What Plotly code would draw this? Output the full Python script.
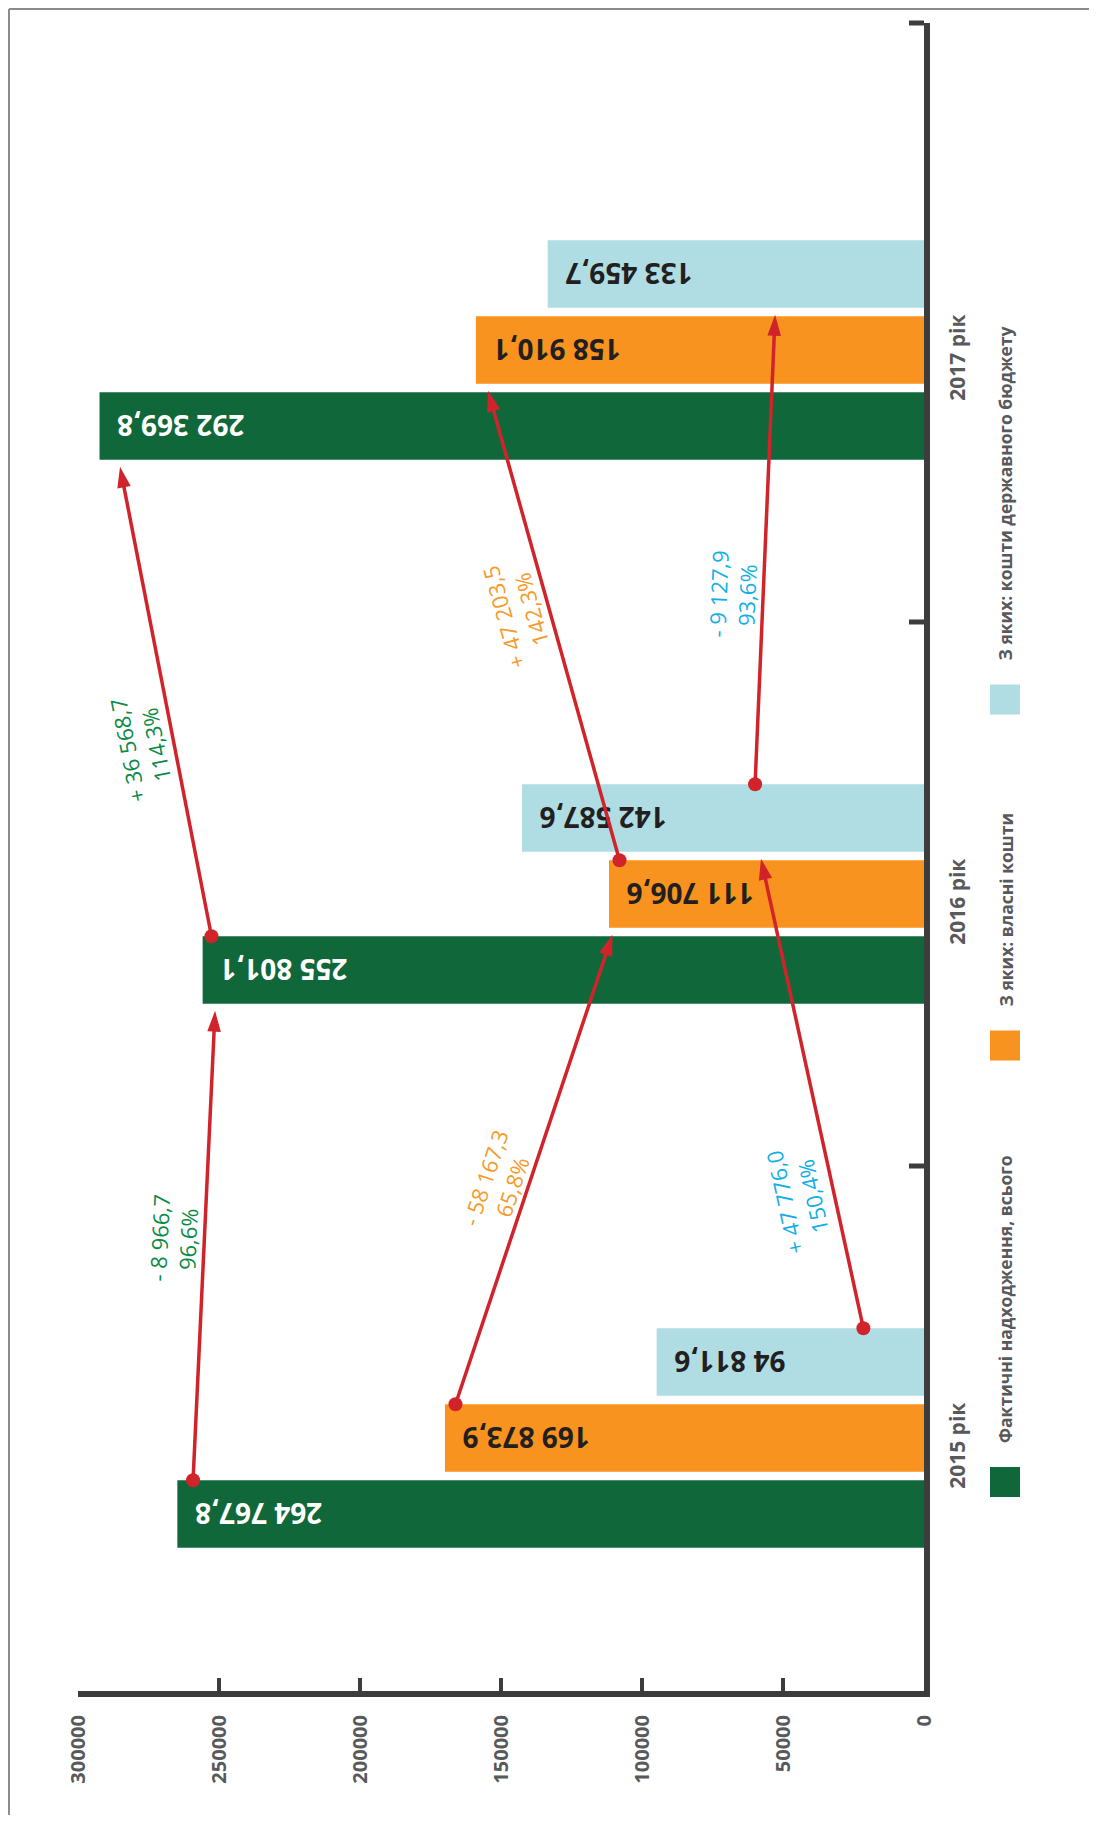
import math
import plotly.graph_objects as go

# ---------------- data ----------------
years = ["2015 рік", "2016 рік", "2017 рік"]
series_names = [
    "Фактичні надходження, всього",
    "З яких: власні кошти",
    "З яких: кошти державного бюджету",
]
total_income = [264767.8, 255801.1, 292369.8]
own_funds = [169873.9, 111706.6, 158910.1]
state_budget = [94811.6, 142587.6, 133459.7]
value_ticks = [0, 50000, 100000, 150000, 200000, 250000, 300000]

# where the change arrows start / end along the value axis
total_arrow_from = [259200, 252660]
total_arrow_to = [251400, 285100]
own_arrow_from = [166140, 107980]
own_arrow_to = [110500, 154600]
state_arrow_from = [21490, 59900]
state_arrow_to = [57800, 52800]

# ---------------- style / layout ----------------
PAGE_W, PAGE_H = 1097, 1823
BODY = 8                          # default page margin around the figure
W, H = PAGE_W - BODY, PAGE_H - 2 * BODY
PLOT_L, PLOT_R, PLOT_T, PLOT_B = 78, 924, 23, 1691   # plot area in page pixels
PW, PH = PLOT_R - PLOT_L, PLOT_B - PLOT_T
ML, MT = PLOT_L - BODY, PLOT_T - BODY
MR, MB = W - ML - PW, H - MT - PH
XMAX = 300000
YR = [-0.465, 2.601]
BARGAP, BARGROUPGAP = 0.581, 0.112
SLOT = (1 - BARGAP) / 3
BARW = SLOT * (1 - BARGROUPGAP)
OFFS = [-(1 - BARGAP) / 2 + SLOT * (i + 0.5) for i in range(3)]
TIP_GAP = 0.013
LINE_BACKOFF = 9

GREEN, ORANGE, BLUE = "#10673a", "#f7931e", "#b0dde3"
BAR_COLORS = [GREEN, ORANGE, BLUE]
BAR_TEXT_COLORS = ["#ffffff", "#231f20", "#231f20"]
CHANGE_COLORS = ["#0a8a46", "#f69a2a", "#12aee8"]
RED = "#d1232a"
AXIS = "#3d3d3d"
LABEL = "#58595b"
FONT = "Open Sans, Roboto, DejaVu Sans, sans-serif"

# change label centres in page pixels
change_label_px = [(173, 1239), (142, 748), (498, 1182), (517, 614), (798, 1200), (732, 595)]

legend_swatch_cy = [1482, 1045.5, 699.5]
LEG_X = 1005
SW = 30


def px_x(v):
    return PLOT_L + PW * (XMAX - v) / XMAX


def px_y(y):
    return PLOT_T + PH * (YR[1] - y) / (YR[1] - YR[0])


def val_x(px):
    return XMAX - (px - PLOT_L) / PW * XMAX


def val_y(py):
    return YR[1] - (py - PLOT_T) / PH * (YR[1] - YR[0])


def paper_x(px):
    return (px - PLOT_L) / PW


def paper_y(py):
    return (PLOT_B - py) / PH


def fmt_num(v):
    s = f"{abs(v):,.1f}"
    return s.replace(",", " ").replace(".", ",")


fig = go.Figure()
ypos = list(range(len(years)))
series_vals = [total_income, own_funds, state_budget]

for s, vals in enumerate(series_vals):
    fig.add_trace(go.Bar(
        orientation="h", x=vals, y=ypos, name=series_names[s],
        marker=dict(color=BAR_COLORS[s], line=dict(width=0)),
        texttemplate="%{x:,.1f}\u00a0\u00a0",
        textposition="inside", insidetextanchor="end", textangle=180,
        constraintext="none",
        textfont=dict(family=FONT, size=28, color=BAR_TEXT_COLORS[s], weight="bold"),
        showlegend=False, hoverinfo="skip",
    ))

arrow_from = [total_arrow_from, own_arrow_from, state_arrow_from]
arrow_to = [total_arrow_to, own_arrow_to, state_arrow_to]

line_x, line_y = [], []
dot_x, dot_y = [], []
tip_x, tip_y, tip_ang = [], [], []
k = 0
for s, vals in enumerate(series_vals):
    for i in range(len(vals) - 1):
        x0, x1 = arrow_from[s][i], arrow_to[s][i]
        y0 = i + OFFS[s] + BARW / 2
        y1 = (i + 1) + OFFS[s] - BARW / 2 - TIP_GAP
        dx = px_x(x1) - px_x(x0)
        dy = px_y(y1) - px_y(y0)
        L = math.hypot(dx, dy)
        ex = px_x(x1) - dx / L * LINE_BACKOFF
        ey = px_y(y1) - dy / L * LINE_BACKOFF
        line_x += [x0, val_x(ex), None]
        line_y += [y0, val_y(ey), None]
        dot_x.append(x0)
        dot_y.append(y0)
        tip_x.append(x1)
        tip_y.append(y1)
        tip_ang.append(math.degrees(math.atan2(dx, -dy)))
        # change label
        d = vals[i + 1] - vals[i]
        pct = vals[i + 1] / vals[i] * 100
        sign = "+ " if d >= 0 else "- "
        txt = f"{sign}{fmt_num(d)}<br>{pct:.1f}%".replace(".", ",")
        ang = math.degrees(math.atan2(dy, dx))
        cx, cy = change_label_px[k]
        fig.add_annotation(
            x=paper_x(cx), y=paper_y(cy), xref="paper", yref="paper",
            text=txt, showarrow=False, textangle=ang,
            xanchor="center", yanchor="middle", align="center",
            font=dict(family=FONT, size=22, color=CHANGE_COLORS[s]),
        )
        k += 1

fig.add_trace(go.Scatter(
    x=line_x, y=line_y, mode="lines", line=dict(color=RED, width=3.5),
    connectgaps=False, showlegend=False, hoverinfo="skip", cliponaxis=False,
))
fig.add_trace(go.Scatter(
    x=dot_x, y=dot_y, mode="markers",
    marker=dict(symbol="circle", size=14, color=RED, opacity=1, line=dict(width=0)),
    showlegend=False, hoverinfo="skip", cliponaxis=False,
))
fig.add_trace(go.Scatter(
    x=tip_x, y=tip_y, mode="markers",
    marker=dict(symbol="arrow", size=22, color=RED, opacity=1, angle=tip_ang,
                line=dict(width=0)),
    showlegend=False, hoverinfo="skip", cliponaxis=False,
))

shapes = []
# category boundary ticks on the value-zero axis
for b in [0.5, 1.5]:
    shapes.append(dict(type="line", xref="paper", yref="y", xsizemode="pixel", xanchor=1,
                       x0=-15, x1=0, y0=b, y1=b, line=dict(color=AXIS, width=5)))
shapes.append(dict(type="line", xref="paper", yref="paper", xsizemode="pixel", xanchor=1,
                   x0=-15, x1=0, y0=1, y1=1, line=dict(color=AXIS, width=5)))
# page frame lines
shapes.append(dict(type="line", xref="paper", yref="paper",
                   x0=paper_x(BODY + 1), x1=paper_x(BODY + 1),
                   y0=paper_y(BODY + 1), y1=paper_y(PAGE_H),
                   line=dict(color="#8c8c8c", width=2)))
shapes.append(dict(type="line", xref="paper", yref="paper",
                   x0=paper_x(BODY + 1), x1=paper_x(PAGE_W),
                   y0=paper_y(BODY + 1), y1=paper_y(BODY + 1),
                   line=dict(color="#8c8c8c", width=2)))
# legend swatches + rotated labels
for s in range(3):
    cy = legend_swatch_cy[s]
    shapes.append(dict(type="rect", xref="paper", yref="paper",
                       x0=paper_x(LEG_X - SW / 2), x1=paper_x(LEG_X + SW / 2),
                       y0=paper_y(cy + SW / 2), y1=paper_y(cy - SW / 2),
                       fillcolor=BAR_COLORS[s], line=dict(width=0)))
    fig.add_annotation(
        x=paper_x(LEG_X), y=paper_y(cy - SW / 2 - 22), xref="paper", yref="paper",
        text=series_names[s], showarrow=False, textangle=-90,
        xanchor="center", yanchor="bottom",
        font=dict(family=FONT, size=17.5, color=LABEL, weight="bold"),
    )

fig.update_layout(
    width=W, height=H,
    margin=dict(l=ML, r=MR, t=MT, b=MB, pad=0),
    paper_bgcolor="white", plot_bgcolor="white",
    barmode="group", bargap=BARGAP, bargroupgap=BARGROUPGAP,
    separators=", ",
    showlegend=False,
    shapes=shapes,
    xaxis=dict(
        range=[XMAX, 0], tickvals=value_ticks, tickformat="d",
        ticks="inside", ticklen=13, tickwidth=4, tickcolor=AXIS,
        showline=True, linewidth=6, linecolor=AXIS,
        showgrid=False, zeroline=False, tickangle=-90,
        tickfont=dict(family=FONT, size=20, color=LABEL, weight="bold"),
        ticklabelstandoff=10,
    ),
    yaxis=dict(
        range=YR, tickvals=[i - 0.02 for i in ypos], ticktext=years,
        side="right", ticks="", showline=True, linewidth=6, linecolor=AXIS,
        showgrid=False, zeroline=False, tickangle=-90,
        tickfont=dict(family=FONT, size=21, color=LABEL, weight="bold"),
        ticklabelstandoff=10,
    ),
)

fig.write_html("out.html")
